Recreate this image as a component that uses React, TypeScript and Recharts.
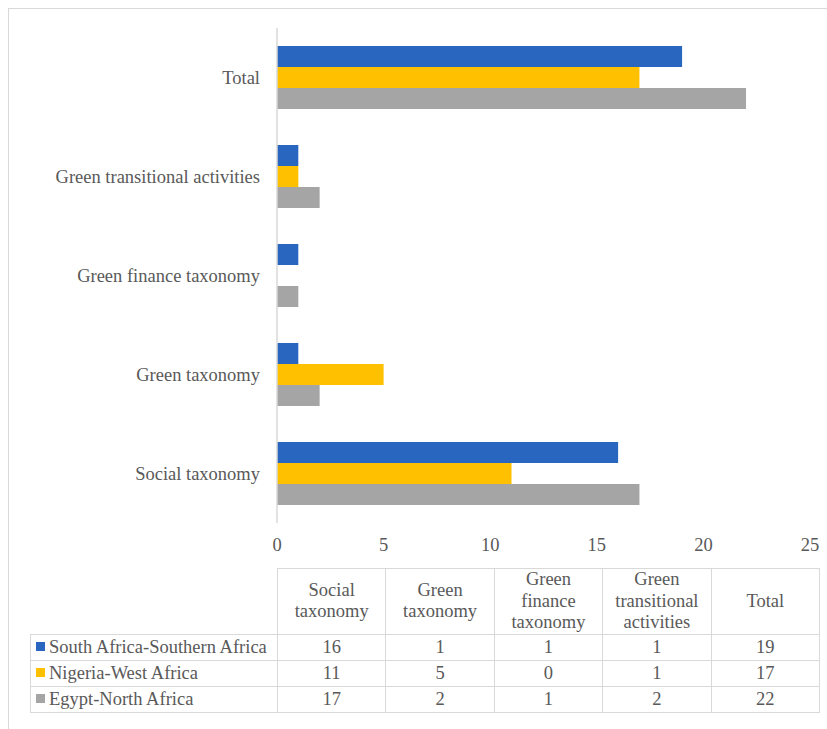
import React from 'react';
import { BarChart, Bar, XAxis, YAxis } from 'recharts';

const categories = [
  'Social taxonomy',
  'Green taxonomy',
  'Green finance taxonomy',
  'Green transitional activities',
  'Total',
];
const headerLines = [
  ['Social', 'taxonomy'],
  ['Green', 'taxonomy'],
  ['Green', 'finance', 'taxonomy'],
  ['Green', 'transitional', 'activities'],
  ['Total'],
];
const southAfrica = [16, 1, 1, 1, 19];
const nigeria = [11, 5, 0, 1, 17];
const egypt = [17, 2, 1, 2, 22];
const xTicks = [0, 5, 10, 15, 20, 25];

const series = [
  { key: 'southAfrica', name: 'South Africa-Southern Africa', color: '#2966C0', values: southAfrica },
  { key: 'nigeria', name: 'Nigeria-West Africa', color: '#FFC000', values: nigeria },
  { key: 'egypt', name: 'Egypt-North Africa', color: '#A5A5A5', values: egypt },
];

const chartData = categories.map((name, i) => ({
  name,
  southAfrica: southAfrica[i],
  nigeria: nigeria[i],
  egypt: egypt[i],
}));

const FONT = 'Liberation Serif';
const TEXT = '#595959';
const LINE = '#d9d9d9';

const cell: React.CSSProperties = {
  border: `1px solid ${LINE}`,
  textAlign: 'center',
  padding: 0,
  fontSize: 18.5,
  fontFamily: FONT,
  color: TEXT,
};

export default function App() {
  return (
    <div style={{ position: 'absolute', left: 0, top: 0, width: 827, height: 729, fontFamily: FONT, background: '#fff', overflow: 'hidden' }}>
      <div
        style={{
          position: 'absolute',
          left: 8,
          top: 8,
          width: 819,
          height: 721,
          borderLeft: `1px solid ${LINE}`,
          borderTop: `1px solid ${LINE}`,
          boxSizing: 'border-box',
        }}
      />
      <div style={{ position: 'absolute', left: 8, top: 8 }}>
        <BarChart
          width={819}
          height={560}
          data={chartData}
          layout="vertical"
          margin={{ top: 20, right: 17, bottom: 0, left: 0 }}
          barSize={21}
          barGap={0}
          style={{ fontFamily: FONT }}
        >
          <XAxis
            type="number"
            domain={[0, 25]}
            ticks={xTicks}
            axisLine={false}
            tickLine={false}
            tickSize={6}
            tickMargin={9}
            height={45}
            tick={{ fontSize: 18.5, fill: TEXT, fontFamily: FONT }}
          />
          <YAxis
            type="category"
            dataKey="name"
            reversed
            width={269}
            axisLine={{ stroke: LINE, strokeWidth: 1.5 }}
            tickLine={false}
            tickSize={0}
            tickMargin={17}
            tick={{ fontSize: 18.5, fill: TEXT, fontFamily: FONT }}
          />
          {series.map(s => (
            <Bar key={s.key} dataKey={s.key} name={s.name} fill={s.color} isAnimationActive={false} />
          ))}
        </BarChart>
      </div>
      <table
        style={{
          position: 'absolute',
          left: 30,
          top: 568,
          width: 789,
          borderCollapse: 'collapse',
          tableLayout: 'fixed',
          fontFamily: FONT,
        }}
      >
        <colgroup>
          <col style={{ width: 247 }} />
          {categories.map(c => (
            <col key={c} style={{ width: 108.4 }} />
          ))}
        </colgroup>
        <tbody>
          <tr style={{ height: 64 }}>
            <td style={{ border: 'none' }} />
            {headerLines.map((lines, i) => (
              <td key={i} style={{ ...cell, lineHeight: '21.5px' }}>
                {lines.map((l, j) => (
                  <div key={j}>{l}</div>
                ))}
              </td>
            ))}
          </tr>
          {series.map(s => (
            <tr key={s.key} style={{ height: 26 }}>
              <td style={{ ...cell, textAlign: 'left', whiteSpace: 'nowrap', paddingLeft: 5, lineHeight: '20px' }}>
                <span
                  style={{
                    display: 'inline-block',
                    width: 9,
                    height: 9,
                    background: s.color,
                    marginRight: 4,
                    verticalAlign: 'middle',
                    position: 'relative',
                    top: -2,
                  }}
                />
                {s.name}
              </td>
              {s.values.map((v, i) => (
                <td key={i} style={{ ...cell, lineHeight: '20px' }}>
                  {v}
                </td>
              ))}
            </tr>
          ))}
        </tbody>
      </table>
    </div>
  );
}
